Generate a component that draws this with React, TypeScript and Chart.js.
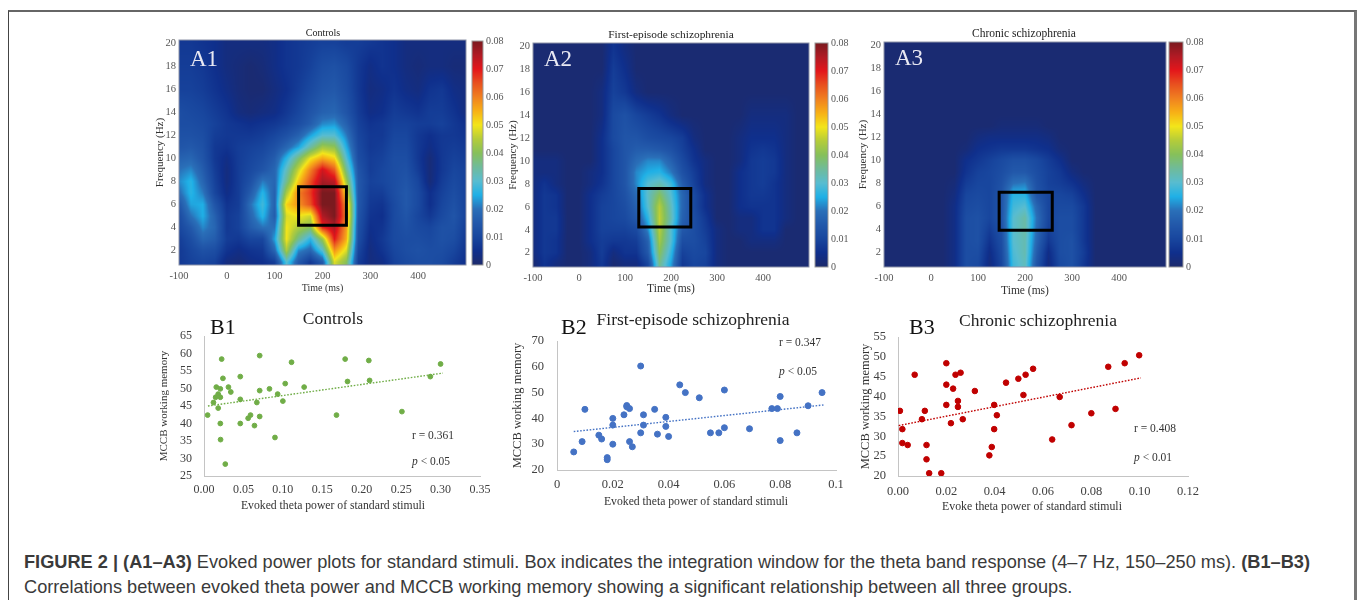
import React, { useEffect, useRef } from "react";
import { Chart, registerables } from "chart.js";

Chart.register(...registerables);

const SERIF = '"Liberation Serif", serif';
const SANS = '"Liberation Sans", Arial, sans-serif';

// ---------- Heat map data (power in thousandths) ----------
const heatTimes = [-100, -75, -50, -25, 0, 25, 50, 75, 100, 125, 150, 175, 200, 225, 250, 275, 300, 325, 350, 375, 400, 425, 450, 475, 500];
const a1Freqs = [20, 18, 16, 14, 13, 12, 11, 10, 9, 8, 7, 6, 5, 4, 3, 2, 1];
const a1Power = [
  [7, 7, 6, 5, 3, 3, 3, 3, 4, 6, 7, 8, 9, 9, 8, 8, 7, 6, 5, 3, 3, 3, 3, 3, 3],
  [8, 8, 7, 5, 3, 2, 1, 2, 4, 6, 7, 9, 12, 13, 11, 7, 4, 6, 5, 3, 2, 3, 3, 2, 2],
  [9, 9, 8, 6, 4, 2, 1, 1, 3, 5, 8, 11, 14, 15, 12, 7, 3, 4, 6, 4, 3, 6, 7, 4, 3],
  [12, 11, 10, 8, 6, 3, 2, 3, 4, 7, 10, 14, 17, 18, 14, 8, 4, 5, 8, 7, 6, 8, 8, 6, 3],
  [12, 12, 11, 9, 7, 6, 5, 6, 7, 9, 12, 16, 22, 23, 17, 9, 6, 7, 9, 9, 8, 8, 9, 7, 5],
  [13, 13, 12, 8, 7, 7, 7, 8, 10, 13, 17, 24, 30, 30, 21, 10, 7, 7, 10, 10, 7, 5, 7, 7, 6],
  [14, 15, 13, 7, 6, 8, 9, 10, 13, 18, 24, 34, 43, 41, 25, 11, 7, 8, 11, 11, 7, 4, 7, 8, 7],
  [17, 18, 14, 7, 4, 8, 10, 12, 16, 26, 38, 50, 56, 52, 30, 12, 8, 9, 12, 12, 7, 2, 7, 9, 8],
  [20, 22, 16, 8, 3, 8, 11, 14, 18, 32, 47, 60, 72, 64, 36, 14, 8, 10, 12, 13, 8, 2, 7, 10, 9],
  [22, 26, 18, 9, 3, 8, 13, 21, 18, 36, 53, 65, 76, 74, 43, 15, 9, 10, 12, 14, 10, 2, 8, 11, 9],
  [19, 26, 21, 10, 4, 8, 16, 26, 17, 44, 60, 67, 80, 80, 50, 15, 8, 8, 12, 15, 11, 5, 9, 12, 9],
  [14, 24, 25, 14, 6, 8, 20, 28, 17, 52, 58, 65, 80, 80, 58, 15, 7, 6, 11, 15, 11, 5, 10, 13, 9],
  [11, 20, 25, 17, 7, 9, 18, 26, 16, 48, 50, 47, 75, 80, 60, 14, 6, 5, 11, 14, 10, 7, 11, 14, 9],
  [10, 15, 22, 18, 7, 9, 16, 20, 20, 50, 44, 40, 68, 75, 57, 13, 5, 6, 11, 13, 11, 10, 13, 13, 8],
  [8, 12, 18, 16, 8, 7, 10, 10, 24, 50, 36, 26, 42, 70, 55, 12, 4, 7, 11, 12, 12, 11, 13, 12, 7],
  [7, 10, 13, 12, 6, 4, 6, 7, 18, 44, 22, 18, 30, 58, 48, 10, 3, 6, 10, 12, 13, 12, 12, 10, 6],
  [7, 9, 10, 9, 3, 2, 4, 5, 8, 30, 15, 7, 15, 48, 40, 8, 3, 4, 9, 11, 12, 12, 11, 8, 5],
];
const a2Freqs = [20, 18, 16, 14, 12, 11, 10, 9, 8, 7, 6, 5, 4, 3, 2, 1];
const a2Power = [
  [1, 1, 1, 1, 1, 1, 1, 6, 3, 1, 1, 1, 1, 1, 1, 1, 1, 1, 1, 1, 1, 1, 1, 1, 1],
  [1, 1, 1, 1, 1, 1, 1, 8, 5, 1, 1, 1, 1, 1, 1, 1, 1, 1, 1, 1, 1, 1, 1, 1, 1],
  [1, 1, 1, 1, 1, 1, 3, 9, 7, 3, 1, 1, 1, 1, 1, 1, 1, 1, 1, 1, 1, 1, 1, 1, 1],
  [1, 1, 1, 1, 1, 1, 3, 11, 13, 10, 8, 6, 3, 1, 1, 1, 1, 1, 1, 3, 3, 3, 3, 1, 1],
  [1, 1, 1, 1, 1, 1, 5, 11, 14, 14, 12, 11, 10, 8, 3, 1, 1, 1, 3, 5, 5, 5, 3, 1, 1],
  [1, 1, 1, 1, 1, 1, 5, 10, 14, 16, 16, 15, 13, 9, 5, 1, 1, 1, 3, 6, 7, 6, 3, 1, 1],
  [3, 3, 3, 1, 1, 1, 5, 10, 14, 19, 22, 22, 17, 11, 6, 3, 1, 1, 3, 7, 8, 7, 3, 1, 1],
  [3, 3, 3, 1, 1, 3, 5, 10, 14, 22, 25, 26, 21, 13, 8, 3, 1, 1, 5, 7, 8, 7, 3, 1, 1],
  [3, 6, 3, 1, 1, 3, 6, 10, 14, 22, 30, 33, 28, 16, 9, 3, 1, 1, 5, 7, 8, 6, 3, 1, 1],
  [3, 7, 6, 1, 1, 5, 8, 10, 13, 19, 31, 40, 30, 18, 11, 5, 1, 1, 5, 7, 7, 6, 3, 1, 1],
  [3, 7, 6, 1, 1, 5, 9, 10, 12, 17, 30, 45, 32, 18, 11, 5, 1, 1, 5, 6, 6, 6, 3, 1, 1],
  [3, 7, 7, 1, 1, 5, 9, 10, 11, 15, 26, 46, 33, 17, 12, 7, 1, 1, 3, 3, 6, 6, 3, 1, 1],
  [3, 7, 7, 1, 1, 5, 9, 9, 9, 11, 22, 45, 30, 15, 12, 8, 3, 1, 3, 3, 6, 6, 1, 1, 1],
  [3, 7, 6, 1, 1, 5, 8, 7, 7, 8, 17, 43, 30, 12, 12, 9, 3, 1, 1, 3, 3, 3, 1, 1, 1],
  [3, 7, 6, 1, 1, 3, 8, 3, 6, 6, 15, 40, 27, 9, 11, 10, 3, 1, 1, 1, 1, 1, 1, 1, 1],
  [1, 6, 3, 1, 1, 3, 7, 1, 3, 3, 10, 36, 24, 7, 10, 9, 3, 1, 1, 1, 1, 1, 1, 1, 1],
];
const a3Freqs = [20, 14, 13, 12, 11, 10, 9, 8, 7, 6, 5, 4, 3, 2, 1];
const a3Power = [
  [1, 1, 1, 1, 1, 1, 1, 1, 1, 1, 1, 1, 1, 1, 1, 1, 1, 1, 1, 1, 1, 1, 1, 1, 1],
  [1, 1, 1, 1, 1, 1, 1, 1, 1, 1, 1, 1, 1, 1, 1, 1, 1, 1, 1, 1, 1, 1, 1, 1, 1],
  [1, 1, 1, 1, 1, 1, 1, 1, 1, 1, 2, 2, 2, 2, 1, 1, 1, 1, 1, 1, 1, 1, 1, 1, 1],
  [1, 1, 1, 1, 1, 1, 1, 1, 3, 4, 4, 4, 4, 4, 3, 1, 1, 1, 1, 1, 1, 1, 1, 1, 1],
  [1, 1, 1, 1, 1, 1, 1, 2, 5, 6, 7, 7, 7, 6, 5, 2, 1, 1, 1, 1, 1, 1, 1, 1, 1],
  [1, 1, 1, 1, 1, 1, 1, 5, 7, 9, 11, 13, 13, 11, 8, 5, 1, 1, 1, 1, 1, 1, 1, 1, 1],
  [1, 1, 1, 1, 1, 1, 1, 6, 9, 10, 12, 15, 15, 12, 9, 7, 3, 1, 1, 1, 1, 1, 1, 1, 1],
  [1, 1, 1, 1, 1, 1, 2, 8, 10, 10, 13, 20, 21, 13, 9, 8, 6, 3, 1, 1, 1, 1, 1, 1, 1],
  [1, 1, 1, 1, 1, 1, 3, 10, 11, 10, 14, 26, 26, 14, 10, 10, 9, 5, 1, 1, 1, 1, 1, 1, 1],
  [1, 1, 1, 1, 1, 1, 4, 11, 12, 10, 14, 28, 30, 18, 10, 11, 11, 7, 1, 1, 1, 1, 1, 1, 1],
  [1, 1, 1, 1, 1, 1, 4, 12, 13, 10, 14, 30, 34, 20, 10, 12, 12, 7, 1, 1, 1, 1, 1, 1, 1],
  [1, 1, 1, 1, 1, 1, 4, 12, 13, 8, 13, 30, 34, 19, 9, 12, 12, 7, 1, 1, 1, 1, 1, 1, 1],
  [1, 1, 1, 1, 1, 1, 4, 12, 13, 6, 12, 30, 33, 18, 7, 12, 13, 7, 1, 1, 1, 1, 1, 1, 1],
  [1, 1, 1, 1, 1, 1, 4, 12, 12, 4, 11, 29, 33, 16, 4, 12, 13, 8, 1, 1, 1, 1, 1, 1, 1],
  [1, 1, 1, 1, 1, 1, 4, 12, 11, 3, 10, 28, 32, 14, 3, 11, 13, 7, 1, 1, 1, 1, 1, 1, 1],
];
const a1BoxTimes = [150, 250];
const a1BoxFreqs = [4.2, 7.55];
const a2BoxTimes = [130, 243];
const a2BoxFreqs = [4.25, 7.6];
const a3BoxTimes = [145, 258];
const a3BoxFreqs = [3.95, 7.25];

const heatXTicks = [-100, 0, 100, 200, 300, 400];
const heatYTicks = [2, 4, 6, 8, 10, 12, 14, 16, 18, 20];
const colorbarTicks = [0, 0.01, 0.02, 0.03, 0.04, 0.05, 0.06, 0.07, 0.08];
const colormap: [number, number, number, number][] = [
  [0, 29, 42, 107], [0.005, 15, 47, 140], [0.01, 24, 70, 158], [0.015, 34, 88, 170], [0.02, 42, 111, 184],
  [0.025, 31, 176, 230], [0.03, 88, 188, 208], [0.035, 111, 187, 154], [0.04, 134, 192, 90], [0.045, 180, 204, 58],
  [0.05, 243, 229, 26], [0.055, 247, 176, 22], [0.06, 240, 128, 32], [0.065, 232, 80, 31], [0.07, 227, 22, 27],
  [0.075, 176, 26, 36], [0.08, 122, 26, 31],
];

// ---------- Scatter data ----------
const b1X = [0.0046, 0.012, 0.0148, 0.0156, 0.018, 0.018, 0.0207, 0.0207, 0.0207, 0.021, 0.0224, 0.024, 0.027, 0.031, 0.034, 0.046, 0.046, 0.046, 0.056, 0.059, 0.064, 0.067, 0.0706, 0.0706, 0.0706, 0.083, 0.09, 0.0934, 0.1, 0.103, 0.111, 0.127, 0.168, 0.179, 0.182, 0.209, 0.21, 0.251, 0.287, 0.3];
const b1Y = [42.4, 46, 47.5, 50.4, 44.4, 48.4, 49.9, 47.5, 40, 35.4, 58.4, 52.9, 28.4, 50.4, 49, 53.4, 46.9, 40, 41.5, 42.4, 39.4, 46, 59.4, 49.4, 42, 49.9, 36, 48.4, 46.4, 51.4, 57.5, 50.4, 42.4, 58.4, 52, 58, 52.3, 43.4, 53.4, 57];
const b1TrendX = [0.005, 0.303];
const b1TrendY = [45, 54.4];
const b1XTicks = [0, 0.05, 0.1, 0.15, 0.2, 0.25, 0.3, 0.35];
const b1YTicks = [25, 30, 35, 40, 45, 50, 55, 60, 65];

const b2X = [0.006, 0.009, 0.01, 0.015, 0.016, 0.018, 0.018, 0.02, 0.02, 0.02, 0.024, 0.025, 0.025, 0.026, 0.026, 0.027, 0.03, 0.03, 0.031, 0.031, 0.035, 0.036, 0.039, 0.039, 0.04, 0.044, 0.046, 0.051, 0.055, 0.058, 0.06, 0.06, 0.069, 0.077, 0.079, 0.08, 0.08, 0.086, 0.09, 0.095];
const b2Y = [27, 31, 43.5, 33.5, 32, 24.8, 24, 40, 37.4, 30, 41.4, 45, 44.5, 43.8, 31, 29, 60.3, 34.4, 41.4, 37.4, 43.5, 33.9, 40.4, 36.9, 33, 53, 50, 48, 34.4, 34.4, 51, 36.4, 36, 43.8, 43.8, 48.5, 31.4, 34.4, 44.9, 50];
const b2TrendX = [0.006, 0.0955];
const b2TrendY = [34.9, 45.2];
const b2XTicks = [0, 0.02, 0.04, 0.06, 0.08, 0.1];
const b2YTicks = [20, 30, 40, 50, 60, 70];

const b3X = [0.0008, 0.0018, 0.0018, 0.004, 0.0069, 0.0099, 0.0111, 0.0118, 0.0118, 0.0129, 0.0179, 0.02, 0.02, 0.02, 0.0219, 0.0228, 0.0238, 0.0248, 0.0248, 0.0259, 0.0268, 0.0318, 0.0378, 0.0388, 0.0398, 0.0398, 0.0409, 0.0447, 0.0498, 0.0519, 0.0528, 0.0559, 0.0638, 0.0669, 0.0718, 0.08, 0.087, 0.09, 0.0938, 0.0998];
const b3Y = [36.4, 31.8, 28.3, 27.8, 45.5, 34.3, 36.4, 27.8, 24.2, 20.7, 20.7, 48.4, 43, 37.9, 33.3, 42, 45.5, 38.9, 37.4, 46, 34.3, 41.4, 25.2, 27.3, 37.9, 31.8, 35.3, 43.5, 44.5, 40.4, 45.5, 47, 29.2, 39.9, 32.8, 35.8, 47.5, 36.9, 48.4, 50.4];
const b3TrendX = [0.0003, 0.1005];
const b3TrendY = [32.7, 44.7];
const b3XTicks = [0, 0.02, 0.04, 0.06, 0.08, 0.1, 0.12];
const b3YTicks = [20, 25, 30, 35, 40, 45, 50, 55];

const captionFirst = [
  { t: "FIGURE 2 | (A1–A3)", b: true },
  { t: " Evoked power plots for standard stimuli. Box indicates the integration window for the theta band response (4–7 Hz, 150–250 ms). ", b: false },
  { t: "(B1–B3)", b: true },
];
const captionSecond = "Correlations between evoked theta power and MCCB working memory showing a significant relationship between all three groups.";

// ---------- Helpers ----------
type Area = { l: number; t: number; r: number; b: number };
type Spec = { box: Area; make: () => any };

function colorOf(v: number): [number, number, number] {
  const m = colormap;
  if (v <= m[0][0]) return [m[0][1], m[0][2], m[0][3]];
  for (let i = 1; i < m.length; i++) {
    if (v <= m[i][0]) {
      const u = (v - m[i - 1][0]) / (m[i][0] - m[i - 1][0]);
      return [
        m[i - 1][1] + u * (m[i][1] - m[i - 1][1]),
        m[i - 1][2] + u * (m[i][2] - m[i - 1][2]),
        m[i - 1][3] + u * (m[i][3] - m[i - 1][3]),
      ];
    }
  }
  const e = m[m.length - 1];
  return [e[1], e[2], e[3]];
}

function bracket(list: number[], v: number): [number, number, number] {
  const asc = list[0] < list[list.length - 1];
  for (let i = 0; i < list.length - 1; i++) {
    const a = list[i];
    const b = list[i + 1];
    if (asc ? v <= b : v >= b) {
      const u = Math.min(1, Math.max(0, (v - a) / (b - a)));
      return [i, i + 1, u];
    }
  }
  return [list.length - 2, list.length - 1, 1];
}

function heatLayer(times: number[], freqs: number[], rows: number[][]) {
  return {
    id: "heatLayer",
    beforeDatasetsDraw(chart: any) {
      const { ctx, chartArea: a, scales } = chart;
      const w = Math.round(a.right - a.left);
      const h = Math.round(a.bottom - a.top);
      const off = document.createElement("canvas");
      off.width = w;
      off.height = h;
      const oc = off.getContext("2d")!;
      const img = oc.createImageData(w, h);
      for (let py = 0; py < h; py++) {
        const f = scales.y.getValueForPixel(a.top + py + 0.5);
        const [r0, r1, ru] = bracket(freqs, f);
        for (let px = 0; px < w; px++) {
          const t = scales.x.getValueForPixel(a.left + px + 0.5);
          const [c0, c1, cu] = bracket(times, t);
          const top = rows[r0][c0] * (1 - cu) + rows[r0][c1] * cu;
          const bot = rows[r1][c0] * (1 - cu) + rows[r1][c1] * cu;
          const v = (top * (1 - ru) + bot * ru) / 1000;
          const c = colorOf(v);
          const k = (py * w + px) * 4;
          img.data[k] = c[0];
          img.data[k + 1] = c[1];
          img.data[k + 2] = c[2];
          img.data[k + 3] = 255;
        }
      }
      oc.putImageData(img, 0, 0);
      ctx.drawImage(off, a.left, a.top);
      ctx.strokeStyle = "#8d93a8";
      ctx.lineWidth = 1;
      ctx.strokeRect(a.left, a.top, w, h);
    },
  };
}

const colorbarLayer = {
  id: "colorbarLayer",
  beforeDatasetsDraw(chart: any) {
    const { ctx, chartArea: a, scales } = chart;
    for (let py = Math.round(a.top); py < a.bottom; py++) {
      const c = colorOf(scales.y.getValueForPixel(py + 0.5));
      ctx.fillStyle = `rgb(${c[0]},${c[1]},${c[2]})`;
      ctx.fillRect(a.left, py, a.right - a.left, 1);
    }
    ctx.strokeStyle = "#9a9a9a";
    ctx.lineWidth = 1;
    ctx.strokeRect(a.left, a.top, a.right - a.left, a.bottom - a.top);
  },
};

function fixedTicks(values: number[]) {
  return (s: any) => {
    s.ticks = values.map((value) => ({ value }));
  };
}

function noPadding(s: any) {
  s.paddingTop = 0;
  s.paddingBottom = 0;
  s.paddingLeft = 0;
  s.paddingRight = 0;
}

function heatSpec(
  area: Area, yTitleX: number, xTitleY: number, xTitleSize: number,
  freqs: number[], rows: number[][], boxT: number[], boxF: number[],
): Spec {
  const box: Area = { l: Math.round(yTitleX - 6.6), t: area.t - 10, r: area.r + 20, b: Math.round(xTitleY + xTitleSize * 0.6) };
  const cells: { x: number; y: number }[] = [];
  rows.forEach((row, i) => row.forEach((_, j) => cells.push({ x: heatTimes[j], y: freqs[i] })));
  const make = () => ({
    type: "scatter",
    data: {
      datasets: [
        { data: cells, pointRadius: 0, showLine: false },
        {
          data: [
            { x: boxT[0], y: boxF[0] }, { x: boxT[1], y: boxF[0] }, { x: boxT[1], y: boxF[1] },
            { x: boxT[0], y: boxF[1] }, { x: boxT[0], y: boxF[0] },
          ],
          showLine: true, pointRadius: 0, borderColor: "#000", borderWidth: 3, tension: 0, borderJoinStyle: "miter", borderCapStyle: "square",
        },
      ],
    },
    plugins: [heatLayer(heatTimes, freqs, rows)],
    options: {
      responsive: false, animation: false, events: [],
      layout: { padding: { top: area.t - box.t, right: box.r - area.r, left: 0, bottom: 0 } },
      plugins: { legend: { display: false }, tooltip: { enabled: false } },
      scales: {
        x: {
          type: "linear", min: -100, max: 500,
          afterBuildTicks: fixedTicks(heatXTicks),
          afterFit: (s: any) => { s.height = box.b - area.b; noPadding(s); },
          grid: { display: false, drawTicks: false }, border: { display: false },
          ticks: { autoSkip: false, maxRotation: 0, padding: 5, color: "#555", font: { family: SERIF, size: 10.5 }, callback: (v: number) => String(v) },
          title: { display: true, text: "Time (ms)", color: "#333", padding: 0, font: { family: SERIF, size: xTitleSize } },
        },
        y: {
          type: "linear", min: 0.75, max: 20.3,
          afterBuildTicks: fixedTicks(heatYTicks),
          afterFit: (s: any) => { s.width = area.l - box.l; noPadding(s); },
          grid: { display: false, drawTicks: false }, border: { display: false },
          ticks: { autoSkip: false, padding: 3, color: "#555", font: { family: SERIF, size: 10.5 }, callback: (v: number) => String(v) },
          title: { display: true, text: "Frequency (Hz)", color: "#333", padding: 0, font: { family: SERIF, size: 11 } },
        },
      },
    },
  });
  return { box, make };
}

function colorbarSpec(area: Area): Spec {
  const box: Area = { l: area.l - 2, t: area.t - 10, r: area.r + 26, b: area.b + 10 };
  const make = () => ({
    type: "scatter",
    data: { datasets: [{ data: colormap.map((s) => ({ x: 0, y: s[0] })), pointRadius: 0, showLine: false }] },
    plugins: [colorbarLayer],
    options: {
      responsive: false, animation: false, events: [],
      layout: { padding: { top: 10, bottom: 10, left: 2, right: 0 } },
      plugins: { legend: { display: false }, tooltip: { enabled: false } },
      scales: {
        x: { type: "linear", display: false, min: 0, max: 1 },
        y: {
          type: "linear", position: "right", min: 0, max: 0.08,
          afterBuildTicks: fixedTicks(colorbarTicks),
          afterFit: (s: any) => { s.width = 26; noPadding(s); },
          grid: { display: false, drawTicks: false }, border: { display: false },
          ticks: { autoSkip: false, padding: 3, color: "#555", font: { family: SERIF, size: 10 }, callback: (v: number) => (v === 0 ? "0" : v.toFixed(2)) },
        },
      },
    },
  });
  return { box, make };
}

function scatterSpec(o: {
  area: Area; yTitleX: number; xs: number[]; ys: number[]; tx: number[]; ty: number[]; color: string; radius: number;
  xMax: number; yMin: number; yMax: number; xTicks: number[]; yTicks: number[]; xFmt: (v: number) => string;
  tickSize: number; titleSize: number; xPad: number; yPad: number;
}): Spec {
  const { area } = o;
  const box: Area = { l: Math.round(o.yTitleX - o.titleSize * 0.6), t: area.t - 10, r: area.r + 24, b: area.b + 24 };
  const make = () => ({
    type: "scatter",
    data: {
      datasets: [
        { data: o.xs.map((x, i) => ({ x, y: o.ys[i] })), backgroundColor: o.color, borderColor: o.color, pointRadius: o.radius, showLine: false },
        {
          data: o.tx.map((x, i) => ({ x, y: o.ty[i] })), showLine: true, pointRadius: 0,
          borderColor: o.color, borderWidth: 1.4, borderDash: [1.6, 1.6], tension: 0,
        },
      ],
    },
    options: {
      responsive: false, animation: false, events: [],
      layout: { padding: { top: area.t - box.t, right: box.r - area.r, left: 0, bottom: 0 } },
      plugins: { legend: { display: false }, tooltip: { enabled: false } },
      scales: {
        x: {
          type: "linear", min: 0, max: o.xMax,
          afterBuildTicks: fixedTicks(o.xTicks),
          afterFit: (s: any) => { s.height = box.b - area.b; noPadding(s); },
          grid: { display: false, drawTicks: false }, border: { display: true, color: "#c4c4c4", width: 1 },
          ticks: { autoSkip: false, maxRotation: 0, padding: o.xPad, color: "#404040", font: { family: SERIF, size: o.tickSize }, callback: (v: number) => o.xFmt(v) },
        },
        y: {
          type: "linear", min: o.yMin, max: o.yMax,
          afterBuildTicks: fixedTicks(o.yTicks),
          afterFit: (s: any) => { s.width = area.l - box.l; noPadding(s); },
          grid: { display: false, drawTicks: false }, border: { display: true, color: "#c4c4c4", width: 1 },
          ticks: { autoSkip: false, padding: o.yPad, color: "#404040", font: { family: SERIF, size: o.tickSize }, callback: (v: number) => String(v) },
          title: { display: true, text: "MCCB working memory", color: "#333", padding: 0, font: { family: SERIF, size: o.titleSize } },
        },
      },
    },
  });
  return { box, make };
}

const fix2 = (v: number) => v.toFixed(2);

const specs: Spec[] = [
  heatSpec({ l: 179, t: 40, r: 466, b: 265 }, 161, 288, 10, a1Freqs, a1Power, a1BoxTimes, a1BoxFreqs),
  colorbarSpec({ l: 472, t: 41, r: 483, b: 265 }),
  heatSpec({ l: 533, t: 43, r: 809, b: 267 }, 514, 289, 11.5, a2Freqs, a2Power, a2BoxTimes, a2BoxFreqs),
  colorbarSpec({ l: 815, t: 43, r: 828, b: 267 }),
  heatSpec({ l: 884, t: 42, r: 1166, b: 267 }, 864, 291, 11.5, a3Freqs, a3Power, a3BoxTimes, a3BoxFreqs),
  colorbarSpec({ l: 1169, t: 42, r: 1183, b: 267 }),
  scatterSpec({ area: { l: 204, t: 336, r: 480, b: 476 }, yTitleX: 165, xs: b1X, ys: b1Y, tx: b1TrendX, ty: b1TrendY, color: "#70ad47", radius: 2.4, xMax: 0.35, yMin: 25, yMax: 65, xTicks: b1XTicks, yTicks: b1YTicks, xFmt: fix2, tickSize: 12, titleSize: 11, xPad: 7, yPad: 12 }),
  scatterSpec({ area: { l: 557, t: 341, r: 836, b: 470 }, yTitleX: 517, xs: b2X, ys: b2Y, tx: b2TrendX, ty: b2TrendY, color: "#4472c4", radius: 3, xMax: 0.1, yMin: 20, yMax: 70, xTicks: b2XTicks, yTicks: b2YTicks, xFmt: (v) => String(v), tickSize: 12.5, titleSize: 12.5, xPad: 7, yPad: 13 }),
  scatterSpec({ area: { l: 898, t: 337, r: 1188, b: 476 }, yTitleX: 865, xs: b3X, ys: b3Y, tx: b3TrendX, ty: b3TrendY, color: "#c00000", radius: 2.8, xMax: 0.12, yMin: 20, yMax: 55, xTicks: b3XTicks, yTicks: b3YTicks, xFmt: fix2, tickSize: 12.5, titleSize: 12.5, xPad: 8, yPad: 12 }),
];

type Lbl = { t: string; x: number; y: number; s: number; c?: string; left?: boolean; pVal?: boolean };
const labels: Lbl[] = [
  { t: "Controls", x: 323, y: 33, s: 10, c: "#222" },
  { t: "First-episode schizophrenia", x: 671, y: 35, s: 11.4, c: "#222" },
  { t: "Chronic schizophrenia", x: 1024, y: 34, s: 11.5, c: "#222" },
  { t: "A1", x: 190, y: 58, s: 23, c: "#e8e8f2", left: true },
  { t: "A2", x: 544, y: 58, s: 23, c: "#e8e8f2", left: true },
  { t: "A3", x: 895, y: 57, s: 23, c: "#e8e8f2", left: true },
  { t: "B1", x: 210, y: 327, s: 22, c: "#111", left: true },
  { t: "B2", x: 561, y: 327, s: 22, c: "#111", left: true },
  { t: "B3", x: 909, y: 327, s: 22, c: "#111", left: true },
  { t: "Controls", x: 333, y: 319, s: 17.5, c: "#222" },
  { t: "First-episode schizophrenia", x: 693, y: 320, s: 17.5, c: "#222" },
  { t: "Chronic schizophrenia", x: 1038, y: 321, s: 17.5, c: "#222" },
  { t: "Evoked theta power of standard stimuli", x: 333, y: 506, s: 11.7, c: "#333" },
  { t: "Evoked theta power of standard stimuli", x: 696, y: 502, s: 11.7, c: "#333" },
  { t: "Evoke theta power of standard stimuli", x: 1032, y: 507, s: 11.8, c: "#333" },
  { t: "r = 0.361", x: 412, y: 436, s: 11.5, c: "#333", left: true },
  { t: "< 0.05", x: 412, y: 462, s: 11.5, c: "#333", left: true, pVal: true },
  { t: "r = 0.347", x: 779, y: 343, s: 11.5, c: "#333", left: true },
  { t: "< 0.05", x: 779, y: 372, s: 11.5, c: "#333", left: true, pVal: true },
  { t: "r = 0.408", x: 1134, y: 429, s: 11.5, c: "#333", left: true },
  { t: "< 0.01", x: 1134, y: 458, s: 11.5, c: "#333", left: true, pVal: true },
];

export default function App() {
  const refs = useRef<(HTMLCanvasElement | null)[]>([]);
  useEffect(() => {
    const charts = specs.map((s, i) => new Chart(refs.current[i] as any, s.make()));
    return () => charts.forEach((c) => c.destroy());
  }, []);
  return (
    <div style={{ position: "absolute", left: 0, top: 0, width: 1357, height: 600, overflow: "hidden", background: "#fff", filter: "blur(0.35px)" }}>
      <div style={{ position: "absolute", left: 8, top: 10, width: 1345, height: 600, borderLeft: "1.5px solid #444", borderTop: "2px solid #666", borderRight: "3px solid #777", boxSizing: "content-box" }} />
      {specs.map((s, i) => (
        <canvas
          key={i}
          ref={(el) => { refs.current[i] = el; }}
          width={s.box.r - s.box.l}
          height={s.box.b - s.box.t}
          style={{ position: "absolute", left: s.box.l, top: s.box.t, width: s.box.r - s.box.l, height: s.box.b - s.box.t }}
        />
      ))}
      {labels.map((l, i) => (
        <div
          key={i}
          style={{
            position: "absolute", left: l.x, top: l.y, whiteSpace: "pre",
            transform: l.left ? "translateY(-50%)" : "translate(-50%,-50%)",
            fontFamily: SERIF, fontSize: l.s, color: l.c, lineHeight: 1,
          }}
        >
          {l.pVal ? <><i>p</i>{" " + l.t}</> : l.t}
        </div>
      ))}
      <div style={{ position: "absolute", left: 24, top: 550, fontFamily: SANS, fontSize: 18.2, color: "#3a3a3a", lineHeight: "25px", whiteSpace: "pre" }}>
        <div>{captionFirst.map((c, i) => <span key={i} style={{ fontWeight: c.b ? 700 : 400 }}>{c.t}</span>)}</div>
        <div>{captionSecond}</div>
      </div>
    </div>
  );
}
